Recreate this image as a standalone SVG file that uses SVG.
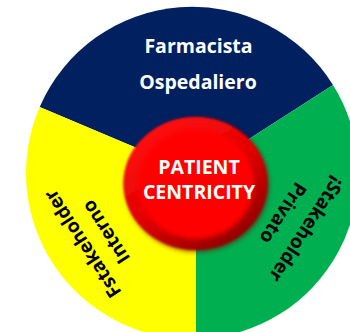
<svg xmlns="http://www.w3.org/2000/svg" width="350" height="332" viewBox="0 0 350 332">
  <defs>
    <style>
      .lbl { font-family: "Open Sans", "Liberation Sans", sans-serif; font-weight: 700; font-size: 19.5px; text-anchor: middle; }
      .rot { font-size: 19px; }
      .white { fill: #ffffff; }
      .black { fill: #000000; }
    </style>
    <linearGradient id="rim" x1="0.2" y1="0.1" x2="0.8" y2="0.95">
      <stop offset="0" stop-color="#ff1010"/>
      <stop offset="0.5" stop-color="#e00000"/>
      <stop offset="1" stop-color="#8e0000"/>
    </linearGradient>
    <filter id="soft" x="-20%" y="-20%" width="140%" height="140%">
      <feGaussianBlur stdDeviation="1.2"/>
    </filter>
    <filter id="soft2" x="-20%" y="-20%" width="140%" height="140%">
      <feGaussianBlur stdDeviation="2.5"/>
    </filter>
  </defs>
  <rect width="350" height="332" fill="#ffffff"/>
  <g id="sector-farmacista">
    <path d="M196,173 L39.7,107 A166,166 0 0 1 333,85 Z" fill="#002060"/>
    <text class="lbl white" x="198.5" y="53">Farmacista</text>
    <text class="lbl white" x="198" y="89">Ospedaliero</text>
  </g>
  <g id="sector-privato">
    <path d="M196,173 L333,85 A166,166 0 0 1 196,339 Z" fill="#00b050"/>
    <g transform="translate(301,226) rotate(123)">
      <text class="lbl rot black" x="0" y="0">¡Stakeholder</text>
    </g>
    <g transform="translate(277.5,209.5) rotate(123)">
      <text class="lbl rot black" x="0" y="0">Privato</text>
    </g>
  </g>
  <g id="sector-interno">
    <path d="M196,173 L196,339 A166,166 0 0 1 39.7,107 Z" fill="#ffff00"/>
    <g transform="translate(88.2,240) rotate(-123)">
      <text class="lbl rot black" x="0" y="0">Fstakeholder</text>
    </g>
    <g transform="translate(111.4,228.3) rotate(-123)">
      <text class="lbl rot black" x="0" y="0">Interno</text>
    </g>
  </g>
  <g id="patient-centricity">
    <ellipse cx="197" cy="185" rx="72" ry="67" fill="#7a0000" opacity="0.6" filter="url(#soft2)"/>
    <ellipse cx="195.5" cy="183.5" rx="72" ry="66.5" fill="url(#rim)" filter="url(#soft)"/>
    <ellipse cx="196" cy="184" rx="58" ry="55" fill="#ff0000" filter="url(#soft2)"/>
    <text class="lbl white" x="199" y="174">PATIENT</text>
    <text class="lbl white" x="199" y="198.5">CENTRICITY</text>
  </g>
</svg>
